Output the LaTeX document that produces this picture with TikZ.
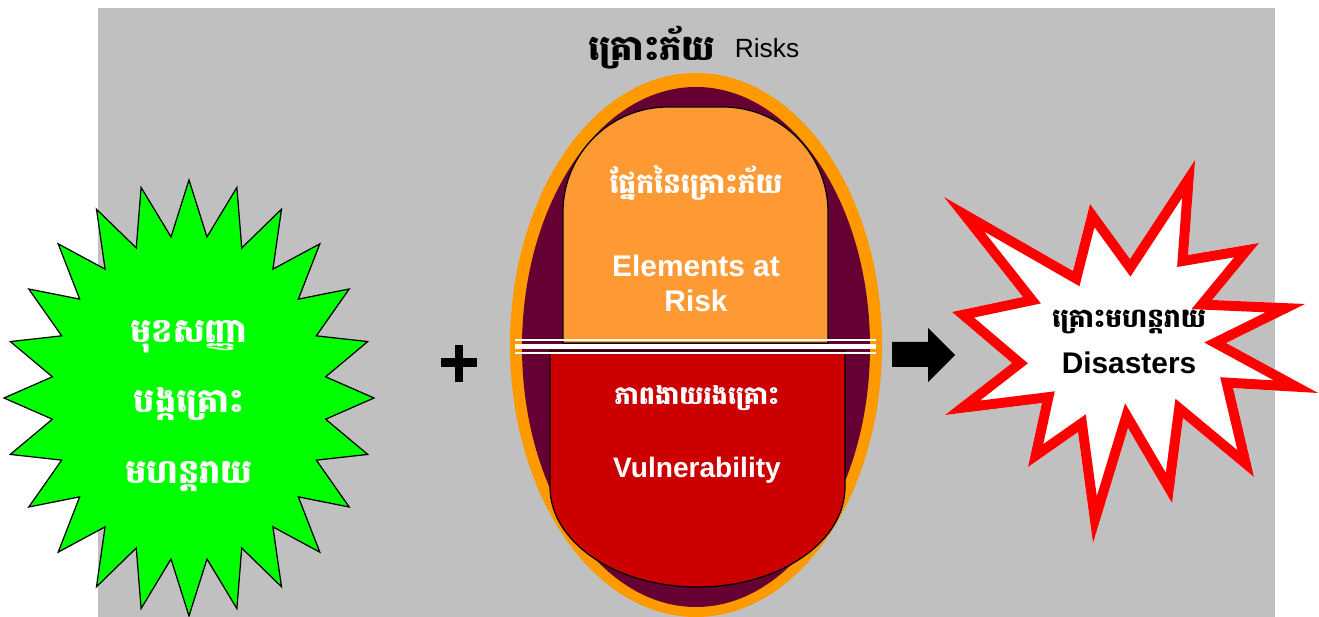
\documentclass[tikz,border=0pt]{standalone}
\usepackage{fontspec}
\setmainfont{Liberation Sans}
\newfontfamily\khmer[Script=Khmer]{Battambang}
\definecolor{bggray}{HTML}{C0C0C0}
\definecolor{hazgreen}{HTML}{00FF00}
\definecolor{ringorange}{HTML}{FF9900}
\definecolor{ringmaroon}{HTML}{660033}
\definecolor{elemorange}{HTML}{FF9933}
\definecolor{vulnred}{HTML}{CC0000}
\definecolor{burstred}{HTML}{FF0000}

\begin{document}
\begin{tikzpicture}[x=0.02cm, y=-0.02cm,
    khwhite/.style={font=\khmer\bfseries\fontsize{16}{20}\selectfont, text=white},
    enwhite/.style={font=\bfseries\fontsize{16}{20}\selectfont, text=white, align=center},
    outline/.style={draw=black, line width=0.7pt}]
    \useasboundingbox (0,0) rectangle (1319,617);
    \fill[bggray] (98,8) rectangle (1275,617);
    \foreach \k in {0,...,47} {
        \pgfmathsetmacro\rr{mod(\k,2)==0 ? 1 : 0.745}
        \coordinate (g\k) at ({189+185*\rr*cos(90+7.5*\k)}, {398-218*\rr*sin(90+7.5*\k)});
    }
    \draw[outline, fill=hazgreen] (g0) \foreach \k in {1,...,47} {-- (g\k)} -- cycle;
    \node[khwhite, font=\khmer\bfseries\fontsize{19}{40}\selectfont, align=center] (hazard) at (189,406)
        {មុខសញ្ញា\\បង្កគ្រោះ\\មហន្តរាយ};
    \fill[ringorange] (696,345) ellipse[x radius=186, y radius=272];
    \fill[ringmaroon] (696,347) ellipse[x radius=174, y radius=260];
    \draw[outline, fill=vulnred] (550,351) -- (550,487)
        arc[start angle=180, end angle=0, x radius=147.5, y radius=100] -- (845,351) -- cycle;
    \draw[outline, fill=elemorange] (563,343) -- (563,212) arc[start angle=180, end angle=270, radius=105]
        -- (723,107) arc[start angle=270, end angle=360, radius=105] -- (828,343) -- cycle;
    \draw[white, line width=0.04cm] (515,340) -- (876,340);
    \draw[white, line width=0.09cm] (515,346.5) -- (876,346.5);
    \draw[white, line width=0.04cm] (515,353.5) -- (876,353.5);
    \node[font=\khmer\bfseries\fontsize{20}{24}\selectfont] (riskkh) at (652,48) {គ្រោះភ័យ};
    \node[font=\fontsize{15}{18}\selectfont] (risken) at (767,48) {Risks};
    \node[khwhite] (elemkh) at (696,183) {ផ្នែកនៃគ្រោះភ័យ};
    \node[enwhite, font=\bfseries\fontsize{17}{20}\selectfont] (elemen) at (696,283) {Elements at\\Risk};
    \node[khwhite, font=\khmer\bfseries\fontsize{14.5}{20}\selectfont] (vulnkh) at (697,398) {ភាពងាយរងគ្រោះ};
    \node[enwhite] (vulnen) at (697,470) {Vulnerability};
    \fill (455,345) rectangle (463,382);
    \fill (441,358) rectangle (477,367);
    \fill (892,342) -- (928,342) -- (928,328) -- (955,355) -- (928,382) -- (928,367) -- (892,367) -- cycle;
    \path[save path=\burstpath] (944,197) -- (1073,271) -- (1090,204) -- (1130,259) -- (1195,160)
        -- (1188,255) -- (1259,243) -- (1212,300) -- (1305,304) -- (1226,343) -- (1318,393)
        -- (1233,388) -- (1254,477) -- (1183,418) -- (1172,503) -- (1128,428) -- (1093,543)
        -- (1078,432) -- (1028,467) -- (1042,403) -- (945,415) -- (1012,363) -- (952,312)
        -- (1023,297) -- cycle;
    \begin{scope}
        \clip[use path=\burstpath];
        \path[use path=\burstpath, fill=white, draw=burstred, line width=0.4cm, miter limit=25];
    \end{scope}
    \node[font=\khmer\bfseries\fontsize{15}{20}\selectfont] (disakh) at (1129,322) {គ្រោះមហន្តរាយ};
    \node[font=\bfseries\fontsize{17}{20}\selectfont] (disaen) at (1129,363) {Disasters};
\end{tikzpicture}
\end{document}
